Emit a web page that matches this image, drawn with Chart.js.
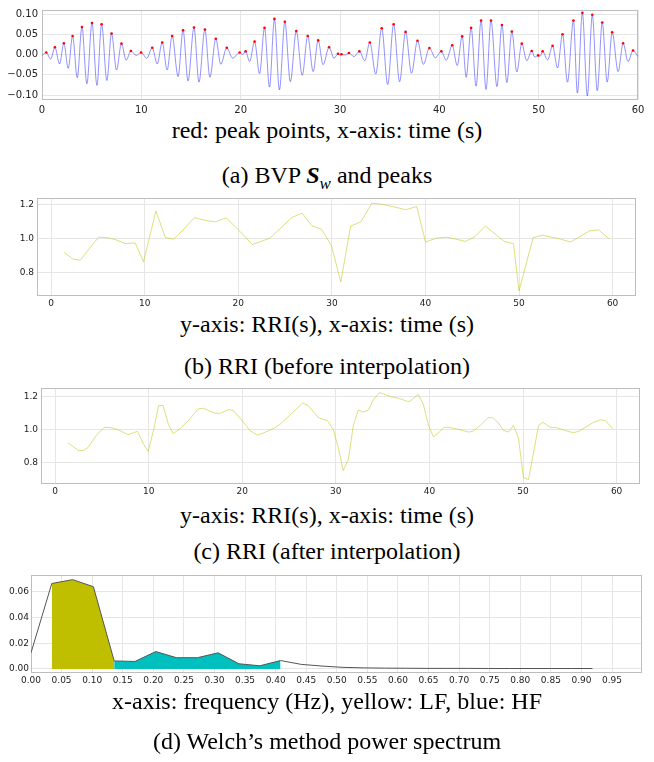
<!DOCTYPE html>
<html>
<head>
<meta charset="utf-8">
<script src="https://cdn.jsdelivr.net/npm/chart.js@4.4.1/dist/chart.umd.min.js"></script>
<style>
  body { margin: 0; background: #fff; }
  #page { position: relative; width: 654px; height: 762px; }
  .plot { position: absolute; left: 0; width: 654px; }
  .cap { position: absolute; left: 0; width: 654px; text-align: center; color: #000;
         font-family: "Liberation Serif", "Times New Roman", serif; font-size: 24px; line-height: 26px; }
  .cap sub { font-size: 17px; line-height: 0; }
</style>
</head>
<body>
<div id="page">
  <div class="plot" style="top:0px;height:115px"><canvas id="bvp"></canvas></div>
  <div class="cap" style="top:117px">red: peak points, x-axis: time (s)</div>
  <div class="cap" style="top:162px">(a) BVP <b><i>S</i></b><sub><i>w</i></sub> and peaks</div>

  <div class="plot" style="top:190px;height:120px"><canvas id="rriRaw"></canvas></div>
  <div class="cap" style="top:311px">y-axis: RRI(s), x-axis: time (s)</div>
  <div class="cap" style="top:353px">(b) RRI (before interpolation)</div>

  <div class="plot" style="top:380px;height:120px"><canvas id="rriInterp"></canvas></div>
  <div class="cap" style="top:502px">y-axis: RRI(s), x-axis: time (s)</div>
  <div class="cap" style="top:538px">(c) RRI (after interpolation)</div>

  <div class="plot" style="top:568px;height:122px"><canvas id="psd"></canvas></div>
  <div class="cap" style="top:688px">x-axis: frequency (Hz), yellow: LF, blue: HF</div>
  <div class="cap" style="top:728px">(d) Welch’s method power spectrum</div>
</div>
<script>
// (a) BVP signal: peaks and troughs
const peakT = [0.43, 1.3, 2.2, 3.08, 4.02, 5.03, 6.0, 7.0, 8.0, 8.95, 9.98, 11.1, 12.1, 13.1, 14.2, 15.3, 16.4, 17.5, 18.6, 19.9,
  20.5, 21.4, 22.4, 23.4, 24.45, 25.6, 26.75, 27.8, 28.9, 29.8, 30.15, 30.9, 31.95, 33.0, 34.2, 35.4, 36.6, 37.8, 39.0, 40.2,
  41.3, 42.3, 43.2, 44.2, 45.2, 46.3, 47.3, 48.3, 49.3, 49.95, 50.4, 51.4, 52.4, 53.5, 54.4, 55.4, 56.4, 57.4, 58.5, 59.5];
const peakV = [0.005, 0.018, 0.028, 0.046, 0.068, 0.078, 0.075, 0.052, 0.027, 0.009, 0.005, 0.017, 0.030, 0.046, 0.060, 0.067, 0.062, 0.039, 0.017, 0.005,
  0.008, 0.032, 0.066, 0.088, 0.081, 0.058, 0.046, 0.035, 0.018, 0.002, 0.001, 0.004, 0.008, 0.030, 0.065, 0.075, 0.056, 0.034, 0.016, 0.008,
  0.023, 0.045, 0.066, 0.084, 0.084, 0.073, 0.057, 0.027, 0.009, -0.002, 0.008, 0.022, 0.050, 0.084, 0.103, 0.098, 0.079, 0.055, 0.028, 0.010];
const troughT = [0.87, 1.77, 2.64, 3.55, 4.52, 5.53, 6.53, 7.5, 8.47, 9.48, 10.55, 11.6, 12.6, 13.7, 14.7, 15.8, 16.9, 18.0, 19.2, 20.2,
  20.9, 21.9, 22.9, 23.9, 25.0, 26.2, 27.3, 28.3, 29.4, 30.0, 30.5, 31.4, 32.5, 33.6, 34.8, 36.0, 37.2, 38.4, 39.6, 40.7,
  41.8, 42.7, 43.7, 44.7, 45.8, 46.8, 47.8, 48.8, 49.6, 50.15, 50.9, 51.9, 52.9, 53.9, 54.9, 55.9, 56.9, 58.0, 59.0];
const troughV = [-0.011, -0.023, -0.034, -0.057, -0.072, -0.076, -0.064, -0.038, -0.014, -0.002, -0.009, -0.023, -0.038, -0.054, -0.065, -0.068, -0.056, -0.024, -0.009, 0.000,
  -0.017, -0.047, -0.080, -0.087, -0.067, -0.051, -0.042, -0.025, -0.009, -0.001, -0.001, -0.005, -0.015, -0.048, -0.074, -0.067, -0.046, -0.024, -0.008, -0.014,
  -0.027, -0.056, -0.078, -0.086, -0.079, -0.069, -0.043, -0.015, -0.006, -0.004, -0.013, -0.033, -0.068, -0.095, -0.102, -0.089, -0.068, -0.042, -0.017];
const edgeT = [0, 60];
const edgeV = [-0.002, -0.005];

// (b) RRI before interpolation
const rriT = [1.39, 2.28, 3.1, 5.05, 6.05, 6.9, 7.9, 8.97, 9.86, 11.19, 12.2, 13.1, 14.2, 15.3, 16.5, 17.55, 18.7, 20.2, 21.5, 23.4,
  25.7, 26.8, 27.85, 28.9, 29.95, 30.95, 32.0, 33.1, 34.26, 35.5, 36.75, 37.9, 39.07, 40.0, 41.2, 42.3, 44.3, 45.3, 46.4, 48.4,
  49.4, 50.0, 51.5, 52.5, 54.4, 55.5, 57.5, 58.5, 59.6];
const rriV = [0.919, 0.88, 0.872, 1.009, 1.006, 0.994, 0.971, 0.975, 0.863, 1.164, 1.006, 0.998, 1.058, 1.125, 1.108, 1.10, 1.123, 1.042, 0.965, 1.004,
  1.125, 1.152, 1.077, 1.056, 0.958, 0.743, 1.075, 1.10, 1.21, 1.203, 1.187, 1.172, 1.191, 0.98, 1.004, 1.009, 0.984, 1.013, 1.075, 0.984,
  0.971, 0.69, 1.006, 1.021, 0.998, 0.98, 1.046, 1.052, 1.0];

// (c) RRI after interpolation
const itpT = [1.39, 2.46, 3.0, 3.53, 4.43, 5.24, 5.85, 6.74, 7.8, 8.81, 9.41, 9.95, 10.56, 11.06, 11.55, 12.1, 12.62, 13.34, 14.23, 15.3,
  15.83, 17.08, 17.6, 18.58, 19.04, 20.1, 20.8, 21.6, 22.25, 23.3, 24.0, 25.3, 26.46, 27.06, 28.13, 29.1, 29.73, 30.27, 30.8, 31.34,
  31.87, 32.4, 32.94, 33.48, 34.0, 34.65, 35.0, 35.8, 36.7, 37.65, 37.9, 38.8, 39.36, 39.9, 40.43, 40.96, 41.57, 42.03, 43.28, 44.17,
  44.7, 45.42, 46.3, 46.78, 47.38, 47.91, 48.45, 48.98, 49.52, 50.05, 50.59, 51.12, 51.66, 52.13, 52.9, 53.62, 54.7, 55.4, 55.94, 56.83,
  57.54, 58.26, 58.79, 59.6];
const itpV = [0.918, 0.872, 0.871, 0.89, 0.965, 1.012, 1.012, 0.998, 0.968, 0.988, 0.915, 0.866, 1.004, 1.145, 1.145, 1.033, 0.974, 1.004, 1.053, 1.125,
  1.129, 1.098, 1.098, 1.121, 1.115, 1.047, 0.994, 0.965, 0.978, 1.004, 1.029, 1.098, 1.161, 1.145, 1.072, 1.053, 1.0, 0.886, 0.749, 0.817,
  1.024, 1.118, 1.106, 1.118, 1.18, 1.224, 1.219, 1.2, 1.19, 1.171, 1.171, 1.214, 1.151, 1.024, 0.955, 0.978, 1.013, 1.013, 0.998, 0.984,
  0.99, 1.024, 1.072, 1.071, 1.039, 0.994, 0.984, 1.024, 0.945, 0.706, 0.694, 0.857, 1.024, 1.043, 1.013, 1.01, 0.99, 0.98, 0.988, 1.019,
  1.043, 1.059, 1.053, 1.004];

// (d) Welch power spectrum
const freq = [0, 0.034, 0.068, 0.102, 0.136, 0.170, 0.204, 0.238, 0.272, 0.306, 0.340, 0.374, 0.408, 0.442, 0.476, 0.510,
  0.544, 0.578, 0.612, 0.646, 0.680, 0.714, 0.748, 0.782, 0.816, 0.850, 0.884, 0.918];
const power = [0.0125, 0.0665, 0.0695, 0.064, 0.0062, 0.0058, 0.0135, 0.0087, 0.0087, 0.0125, 0.004, 0.0024, 0.0065, 0.0035, 0.0022, 0.0012,
  0.0008, 0.0006, 0.0005, 0.0004, 0.0004, 0.0004, 0.0003, 0.0003, 0.0003, 0.0003, 0.0003, 0.0003];
const lfRange = [1, 4];
const hfRange = [4, 12];

const pts = (xs, ys) => xs.map((x, i) => ({ x: x, y: ys[i] }));

const boxPlugin = {
  id: 'box',
  beforeDatasetsDraw(chart) {
    const a = chart.chartArea, ctx = chart.ctx;
    ctx.save();
    ctx.strokeStyle = '#bdbdbd';
    ctx.lineWidth = 1;
    ctx.strokeRect(Math.round(a.left) + 0.5, Math.round(a.top) + 0.5, Math.round(a.width) - 1, Math.round(a.height) - 1);
    ctx.restore();
  }
};

function axes(o) {
  return {
    x: {
      type: 'linear', min: o.xmin, max: o.xmax,
      afterFit: s => { s.height = o.xh; },
      grid: { color: '#e6e6e6', drawTicks: false },
      border: { display: false },
      ticks: { stepSize: o.xstep, includeBounds: false, padding: o.xpad, maxRotation: 0, autoSkip: false,
               color: '#222', font: { family: 'DejaVu Sans', size: o.fs },
               callback: o.xfmt }
    },
    y: {
      min: o.ymin, max: o.ymax,
      afterFit: s => { s.width = o.yw; },
      grid: { color: '#e6e6e6', drawTicks: false },
      border: { display: false },
      ticks: { stepSize: o.ystep, includeBounds: false, padding: o.ypad,
               color: '#222', font: { family: 'DejaVu Sans', size: o.fs },
               callback: o.yfmt }
    }
  };
}

const common = {
  responsive: true, maintainAspectRatio: false, animation: false,
  plugins: { legend: { display: false }, tooltip: { enabled: false } }
};

// (a)
const wave = pts(edgeT.concat(peakT, troughT), edgeV.concat(peakV, troughV)).sort((a, b) => a.x - b.x);
new Chart(document.getElementById('bvp'), {
  type: 'line',
  data: {
    datasets: [
      { data: pts(peakT, peakV), showLine: false, pointRadius: 1.3, pointBackgroundColor: 'red', pointBorderWidth: 0 },
      { data: wave, borderColor: 'rgba(40,40,255,0.5)', borderWidth: 1, pointRadius: 0, cubicInterpolationMode: 'monotone' }
    ]
  },
  options: Object.assign({}, common, {
    layout: { padding: { left: 0, right: 16, top: 3, bottom: 0 } },
    scales: axes({ xmin: 0, xmax: 60, xstep: 10, ymin: -0.112, ymax: 0.11, ystep: 0.05, xh: 15, yw: 42, xpad: 4, ypad: 4, fs: 10,
      xfmt: v => String(v), yfmt: v => (v < -1e-9 ? '\u2212' : '') + Math.abs(v).toFixed(2) })
  }),
  plugins: [boxPlugin]
});

// (b)
new Chart(document.getElementById('rriRaw'), {
  type: 'line',
  data: { datasets: [{ data: pts(rriT, rriV), borderColor: 'rgba(191,191,0,0.5)', borderWidth: 1, pointRadius: 0 }] },
  options: Object.assign({}, common, {
    layout: { padding: { left: 0, right: 18, top: 6, bottom: 0 } },
    scales: axes({ xmin: -1.52, xmax: 62.5, xstep: 10, ymin: 0.66, ymax: 1.239, ystep: 0.2, xh: 14, yw: 37, xpad: 2, ypad: 3, fs: 9,
      xfmt: v => String(v), yfmt: v => v.toFixed(1) })
  }),
  plugins: [boxPlugin]
});

// (c)
new Chart(document.getElementById('rriInterp'), {
  type: 'line',
  data: { datasets: [{ data: pts(itpT, itpV), borderColor: 'rgba(191,191,0,0.5)', borderWidth: 1, pointRadius: 0 }] },
  options: Object.assign({}, common, {
    layout: { padding: { left: 0, right: 14, top: 5, bottom: 0 } },
    scales: axes({ xmin: -1.5, xmax: 62.5, xstep: 10, ymin: 0.667, ymax: 1.25, ystep: 0.2, xh: 16, yw: 41, xpad: 2, ypad: 3, fs: 9,
      xfmt: v => String(v), yfmt: v => v.toFixed(1) })
  }),
  plugins: [boxPlugin]
});

// (d)
const spec = pts(freq, power);
new Chart(document.getElementById('psd'), {
  type: 'line',
  data: {
    datasets: [
      { data: spec, borderColor: '#555', borderWidth: 1, pointRadius: 0 },
      { data: spec.slice(lfRange[0], lfRange[1] + 1), fill: 'origin', backgroundColor: 'rgb(191,191,0)', borderWidth: 0, pointRadius: 0 },
      { data: spec.slice(hfRange[0], hfRange[1] + 1), fill: 'origin', backgroundColor: 'rgb(0,191,191)', borderWidth: 0, pointRadius: 0 }
    ]
  },
  options: Object.assign({}, common, {
    layout: { padding: { left: 0, right: 12, top: 5, bottom: 0 } },
    scales: axes({ xmin: 0, xmax: 0.999, xstep: 0.05, ymin: -0.0032, ymax: 0.0728, ystep: 0.02, xh: 17, yw: 31, xpad: 2, ypad: 2, fs: 9,
      xfmt: v => v.toFixed(2), yfmt: v => Math.abs(v).toFixed(2) })
  }),
  plugins: [boxPlugin]
});
</script>
</body>
</html>
